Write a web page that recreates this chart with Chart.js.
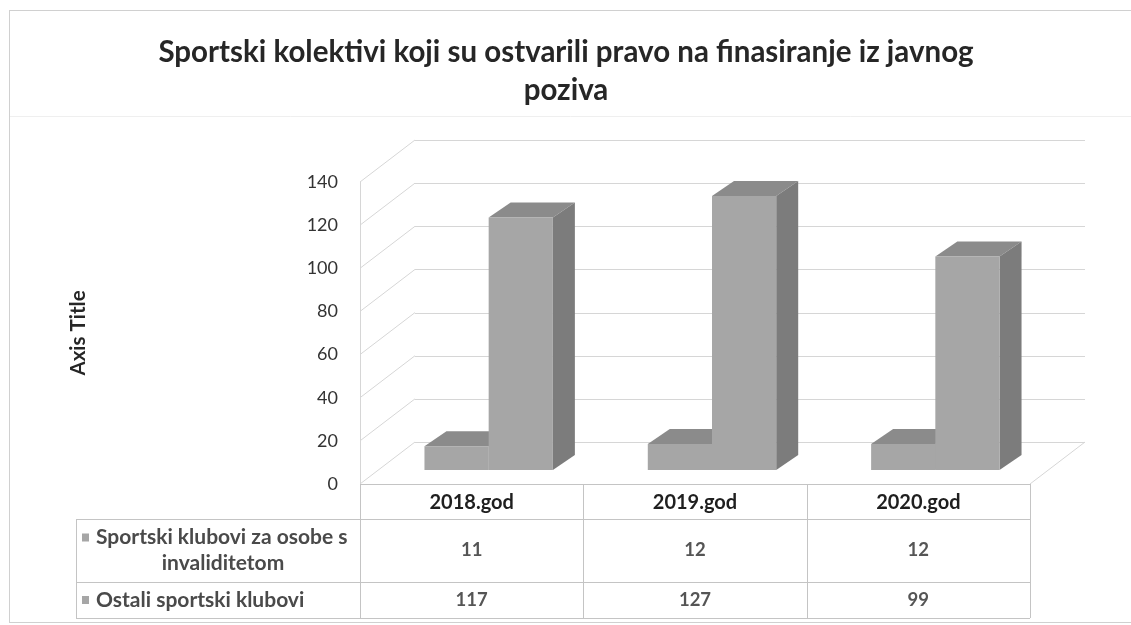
<!DOCTYPE html>
<html>
<head>
<meta charset="utf-8">
<script src="https://cdn.jsdelivr.net/npm/chart.js@4.4.1/dist/chart.umd.min.js"></script>
<style>
  html, body { margin: 0; padding: 0; background: #ffffff; }
  #wrap { width: 1131px; height: 625px; position: relative; }
</style>
</head>
<body>
<div id="wrap"><canvas id="c" width="1131" height="625"></canvas></div>
<script>
// ---- data ----
const categories = ['2018.god', '2019.god', '2020.god'];
const seriesNames = ['Sportski klubovi za osobe s invaliditetom', 'Ostali sportski klubovi'];
const seriesLabelLines = [['Sportski klubovi za osobe s', 'invaliditetom'], ['Ostali sportski klubovi']];
const disabledClubs = [11, 12, 12];
const otherClubs = [117, 127, 99];
const yTickValues = [0, 20, 40, 60, 80, 100, 120, 140];
const titleLines = ['Sportski kolektivi koji su ostvarili pravo na finasiranje iz javnog', 'poziva'];
const axisTitle = 'Axis Title';

// ---- styling ----
const FONT = 'Lato, "Open Sans", sans-serif';
const frontCol = '#a6a6a6';
const topCol = '#8b8b8b';
const sideCol = '#7c7c7c';
const gridCol = '#d6d6d6';
const tableCol = '#c4c4c4';
// depth geometry (pixels)
const FRONT = {dx: -17, dy: 14};   // bar plane -> front plane
const BACK = {dx: 38, dy: -28};    // bar plane -> back wall
const BARD = {dx: 22, dy: -15};    // bar depth

const threeD = {
  id: 'threeD',
  beforeDraw(chart) {
    const ctx = chart.ctx;
    ctx.save();
    ctx.strokeStyle = '#d0d0d0';
    ctx.lineWidth = 1;
    ctx.strokeRect(9.5, 10.5, 1140, 612);
    ctx.strokeStyle = '#efefef';
    ctx.beginPath(); ctx.moveTo(10, 116.5); ctx.lineTo(1131, 116.5); ctx.stroke();
    ctx.restore();
  },
  beforeDatasetsDraw(chart) {
    const ctx = chart.ctx;
    const ys = chart.scales.y;
    const a = chart.chartArea;
    ctx.save();
    ctx.strokeStyle = gridCol;
    ctx.lineWidth = 1;
    yTickValues.forEach(v => {
      const y = ys.getPixelForValue(v);
      ctx.beginPath();
      ctx.moveTo(a.left + BACK.dx, Math.round(y + BACK.dy) + 0.5);
      ctx.lineTo(a.right + BACK.dx, Math.round(y + BACK.dy) + 0.5);
      ctx.stroke();
      ctx.beginPath();
      ctx.moveTo(a.left + FRONT.dx, y + FRONT.dy);
      ctx.lineTo(a.left + BACK.dx, y + BACK.dy);
      ctx.stroke();
    });
    const y0 = ys.getPixelForValue(0), yMax = ys.getPixelForValue(yTickValues[yTickValues.length - 1]);
    ctx.beginPath();
    ctx.moveTo(Math.round(a.left + FRONT.dx) + 0.5, y0 + FRONT.dy);
    ctx.lineTo(Math.round(a.left + FRONT.dx) + 0.5, yMax + FRONT.dy);
    ctx.stroke();
    ctx.beginPath();
    ctx.moveTo(a.right + FRONT.dx, y0 + FRONT.dy);
    ctx.lineTo(a.right + BACK.dx, y0 + BACK.dy);
    ctx.stroke();
    chart.data.datasets.forEach((ds, di) => {
      chart.getDatasetMeta(di).data.forEach(bar => {
        const L = bar.x - bar.width / 2, R = bar.x + bar.width / 2, T = bar.y, B = bar.base;
        ctx.fillStyle = topCol;
        ctx.beginPath();
        ctx.moveTo(L, T); ctx.lineTo(R, T);
        ctx.lineTo(R + BARD.dx, T + BARD.dy); ctx.lineTo(L + BARD.dx, T + BARD.dy);
        ctx.closePath(); ctx.fill();
        ctx.fillStyle = sideCol;
        ctx.beginPath();
        ctx.moveTo(R, T); ctx.lineTo(R + BARD.dx, T + BARD.dy);
        ctx.lineTo(R + BARD.dx, B + BARD.dy); ctx.lineTo(R, B);
        ctx.closePath(); ctx.fill();
      });
    });
    ctx.restore();
  },
  afterDraw(chart) {
    const ctx = chart.ctx;
    const ys = chart.scales.y, xs = chart.scales.x;
    const a = chart.chartArea;
    const y0 = ys.getPixelForValue(0) + FRONT.dy;
    const colW = (a.right - a.left) / categories.length;
    const tLeft = 76;
    const colLeft = a.left + FRONT.dx;
    const tRight = a.right + FRONT.dx;
    const rowB = [y0, y0 + 35, y0 + 98, y0 + 134];
    ctx.save();
    ctx.strokeStyle = tableCol;
    ctx.lineWidth = 1;
    const hl = (x1, x2, y) => { ctx.beginPath(); ctx.moveTo(x1, Math.round(y) + 0.5); ctx.lineTo(x2, Math.round(y) + 0.5); ctx.stroke(); };
    const vl = (x, y1, y2) => { ctx.beginPath(); ctx.moveTo(Math.round(x) + 0.5, y1); ctx.lineTo(Math.round(x) + 0.5, y2); ctx.stroke(); };
    hl(colLeft, tRight, rowB[0]);
    hl(tLeft, tRight, rowB[1]);
    hl(tLeft, tRight, rowB[2]);
    hl(tLeft, tRight, rowB[3]);
    vl(tLeft, rowB[1], rowB[3]);
    for (let i = 0; i <= categories.length; i++) vl(colLeft + i * colW, rowB[0], rowB[3]);
    // header text
    ctx.textAlign = 'center';
    ctx.textBaseline = 'middle';
    ctx.font = 'bold 20px ' + FONT;
    ctx.fillStyle = '#1f1f1f';
    categories.forEach((c, i) => {
      const cx = xs.getPixelForValue(i) + FRONT.dx;
      ctx.fillText(c, cx, (rowB[0] + rowB[1]) / 2 + 1);
    });
    // values
    const seriesVals = [disabledClubs, otherClubs];
    ctx.font = 'bold 18.5px ' + FONT;
    ctx.fillStyle = '#555555';
    seriesVals.forEach((vals, si) => {
      const cy = (rowB[si + 1] + rowB[si + 2]) / 2;
      vals.forEach((v, i) => {
        const cx = xs.getPixelForValue(i) + FRONT.dx;
        ctx.fillText(String(v), cx, cy);
      });
    });
    // row labels with legend keys
    ctx.font = 'bold 21px ' + FONT;
    seriesLabelLines.forEach((lines, si) => {
      const cy = (rowB[si + 1] + rowB[si + 2]) / 2;
      const lh = 26;
      const startY = cy - (lines.length - 1) * lh / 2;
      lines.forEach((ln, li) => {
        const yy = startY + li * lh;
        if (li === 0) {
          ctx.fillStyle = frontCol;
          ctx.fillRect(82, yy - 4, 7, 8);
          ctx.fillStyle = '#4a4a4a';
          ctx.textAlign = 'left';
          ctx.fillText(ln, 96, yy);
        } else {
          ctx.fillStyle = '#4a4a4a';
          ctx.textAlign = 'center';
          ctx.fillText(ln, 223, yy);
        }
      });
    });
    // axis title
    ctx.save();
    ctx.translate(78, (ys.getPixelForValue(0) + ys.getPixelForValue(140)) / 2 + FRONT.dy);
    ctx.rotate(-Math.PI / 2);
    ctx.textAlign = 'center';
    ctx.textBaseline = 'middle';
    ctx.font = 'bold 20.5px ' + FONT;
    ctx.fillStyle = '#262626';
    ctx.fillText(axisTitle, 0, 0);
    ctx.restore();
    ctx.restore();
  }
};

new Chart(document.getElementById('c'), {
  type: 'bar',
  data: {
    labels: categories,
    datasets: [
      { label: seriesNames[0], data: disabledClubs, backgroundColor: frontCol, borderWidth: 0,
        categoryPercentage: 0.575, barPercentage: 1.0 },
      { label: seriesNames[1], data: otherClubs, backgroundColor: frontCol, borderWidth: 0,
        categoryPercentage: 0.575, barPercentage: 1.0 }
    ]
  },
  options: {
    responsive: false,
    animation: false,
    devicePixelRatio: 1,
    layout: { padding: { top: 12, left: 10, right: 9, bottom: 155 } },
    plugins: {
      legend: { display: false },
      tooltip: { enabled: false },
      title: {
        display: true,
        text: titleLines,
        color: '#262626',
        font: { family: FONT, size: 29.5, weight: 'bold', lineHeight: 1.288 },
        padding: { top: 21, bottom: 59 }
      }
    },
    scales: {
      x: {
        display: false,
        grid: { display: false }
      },
      y: {
        min: 0,
        max: 140,
        afterFit: (s) => { s.width = 367; },
        afterBuildTicks: (s) => { s.ticks = yTickValues.map(v => ({ value: v })); },
        grid: { display: false, drawTicks: false },
        border: { display: false },
        ticks: {
          padding: 39,
          labelOffset: 14,
          color: '#333333',
          font: { family: FONT, size: 18 }
        }
      },
      ySpace: {
        type: 'linear',
        position: 'right',
        display: true,
        min: 0,
        max: 1,
        afterFit: (s) => { s.width = 75; },
        grid: { display: false, drawTicks: false },
        border: { display: false },
        ticks: { display: false }
      }
    }
  },
  plugins: [threeD]
});
</script>
</body>
</html>
